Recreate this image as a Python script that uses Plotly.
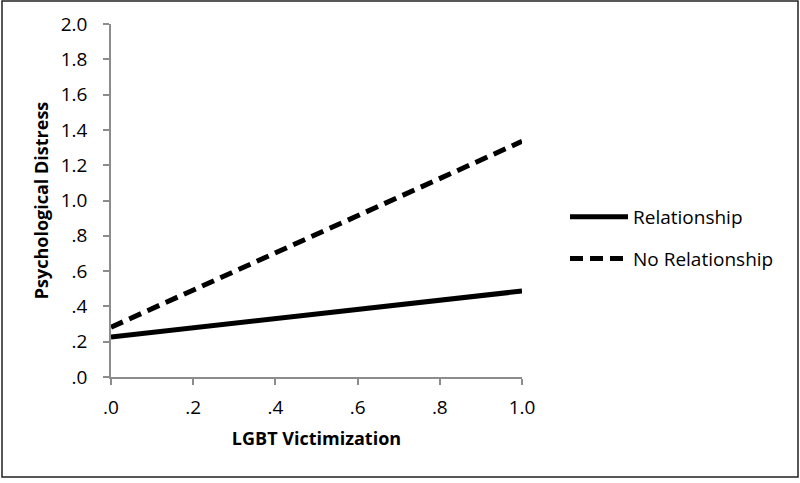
import plotly.graph_objects as go

# simple slopes: victimization (x) vs psychological distress (y)
victimization = [0.0, 1.0]
relationship = [0.227, 0.487]
no_relationship = [0.282, 1.335]

x_ticks = [0.0, 0.2, 0.4, 0.6, 0.8, 1.0]
x_ticktext = [".0", ".2", ".4", ".6", ".8", "1.0"]
y_ticks = [0.0, 0.2, 0.4, 0.6, 0.8, 1.0, 1.2, 1.4, 1.6, 1.8, 2.0]
y_ticktext = [".0", ".2", ".4", ".6", ".8", "1.0", "1.2", "1.4", "1.6", "1.8", "2.0"]

FONT = "Open Sans, sans-serif"
W, H = 800, 483
L, R, T, B = 111, 278, 24, 106
pw, ph = W - L - R, H - T - B

fig = go.Figure()
fig.add_trace(go.Scatter(
    x=victimization, y=relationship, mode="lines", name="Relationship",
    legendgroup="rel", line=dict(color="black", width=5),
))
fig.add_trace(go.Scatter(
    x=victimization, y=no_relationship, mode="lines", name="No Relationship",
    legendgroup="norel", line=dict(color="black", width=5, dash="13px,7px"),
))

axis_common = dict(
    showgrid=False, zeroline=False, showline=True, linecolor="#8c8c8c", linewidth=1.5,
    ticks="outside", ticklen=6, tickcolor="#8c8c8c", tickwidth=1.5,
    tickfont=dict(family=FONT, size=19, color="black"),
)

fig.update_xaxes(
    range=[0, 1], tickvals=x_ticks, ticktext=x_ticktext, ticklabelstandoff=6,
    title=dict(text="<b>LGBT Victimization</b>", font=dict(family=FONT, size=18, color="black"), standoff=14),
    **axis_common,
)
fig.update_yaxes(
    range=[0, 2], tickvals=y_ticks, ticktext=y_ticktext, ticklabelstandoff=12,
    title=dict(text="<b>Psychological Distress</b>", font=dict(family=FONT, size=18, color="black"), standoff=7),
    **axis_common,
)

# outer frame
fig.add_shape(
    type="rect", xref="paper", yref="paper",
    x0=(2 - L) / pw, x1=(798 - L) / pw,
    y0=(H - B - 477) / ph, y1=(H - B - 1) / ph,
    line=dict(color="#222", width=1.5), fillcolor="rgba(0,0,0,0)", layer="below",
)

fig.update_layout(
    width=W, height=H,
    margin=dict(l=L, r=R, t=T, b=B),
    paper_bgcolor="white", plot_bgcolor="white",
    showlegend=True,
    legend=dict(
        x=(565 - L) / pw, y=(H - B - 198) / ph, xanchor="left", yanchor="top",
        font=dict(family=FONT, size=19, color="black"),
        itemwidth=58, traceorder="grouped", tracegroupgap=14, bgcolor="rgba(0,0,0,0)",
    ),
)

fig.write_html("out.html", config={"displayModeBar": False},
               post_script="document.body.style.margin='0';")
